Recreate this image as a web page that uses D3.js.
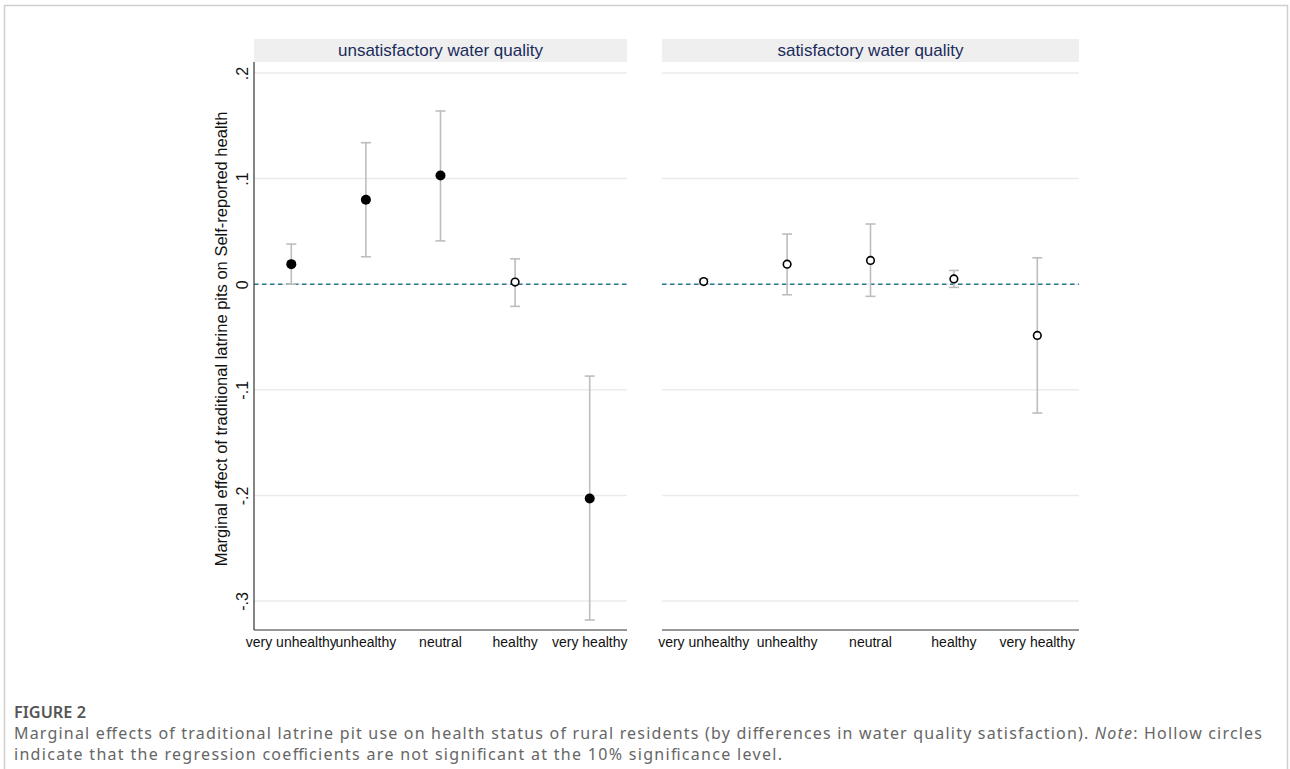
<!DOCTYPE html>
<html><head><meta charset="utf-8">
<script src="https://cdn.jsdelivr.net/npm/d3@7"></script>
<style>body{margin:0;background:#fff}svg{display:block}</style>
</head><body>
<svg id="c" width="1290" height="769"></svg>
<script>
const categories = ["very unhealthy","unhealthy","neutral","healthy","very healthy"];
const panelTitles = ["unsatisfactory water quality","satisfactory water quality"];
const yTicks = [0.2, 0.1, 0, -0.1, -0.2, -0.3];
const yTickLabels = [".2", ".1", "0", "-.1", "-.2", "-.3"];
// unsatisfactory water quality
const unsatEst = [0.019, 0.080, 0.103, 0.002, -0.203];
const unsatLo  = [0.000, 0.026, 0.041, -0.021, -0.318];
const unsatHi  = [0.038, 0.134, 0.164, 0.024, -0.087];
const unsatSig = [true, true, true, false, true];
// satisfactory water quality
const satEst = [0.0025, 0.019, 0.0225, 0.005, -0.0485];
const satLo  = [0.000, -0.010, -0.0115, -0.003, -0.122];
const satHi  = [0.005, 0.0475, 0.057, 0.013, 0.025];
const satSig = [false, false, false, false, false];

const svg = d3.select("#c");
svg.append("rect").attr("x",4.5).attr("y",5.5).attr("width",1283).attr("height",800)
  .attr("fill","none").attr("stroke","#cfcfcf").attr("stroke-width",1.5);

const plotTop = 62, plotBottom = 630;
const y = d3.scaleLinear().domain([-0.3, 0.2]).range([601, 73]);

const panels = [
  {x0:254, x1:627, title:panelTitles[0], est:unsatEst, lo:unsatLo, hi:unsatHi, sig:unsatSig, axis:true},
  {x0:662, x1:1079, title:panelTitles[1], est:satEst, lo:satLo, hi:satHi, sig:satSig, axis:false}
];
const font = "'Liberation Sans', Arial, sans-serif";

panels.forEach(p => {
  const g = svg.append("g");
  const x = d3.scaleBand().domain(categories).range([p.x0, p.x1]);
  g.append("rect").attr("x",p.x0).attr("y",39).attr("width",p.x1-p.x0).attr("height",23).attr("fill","#efefef");
  g.append("text").attr("x",(p.x0+p.x1)/2).attr("y",55.5).attr("text-anchor","middle")
    .attr("font-family",font).attr("font-size",17).attr("fill","#1b2b5c").text(p.title);
  g.selectAll(".grid").data(yTicks).join("line")
    .attr("x1",p.x0).attr("x2",p.x1).attr("y1",d=>y(d)).attr("y2",d=>y(d))
    .attr("stroke","#ebebeb").attr("stroke-width",1.5);
  g.append("line").attr("x1",p.x0).attr("x2",p.x1).attr("y1",y(0)).attr("y2",y(0))
    .attr("stroke","#2c7893").attr("stroke-width",1.5).attr("stroke-dasharray","4.5,3.5");
  const xAxis = d3.axisBottom(x).tickSize(0).tickPadding(0);
  const ax = g.append("g").attr("transform",`translate(0,${plotBottom})`).call(xAxis);
  ax.select(".domain").attr("stroke","#333").attr("stroke-width",1.2).attr("d",`M${p.x0},0H${p.x1}`);
  ax.selectAll("text").attr("font-family",font).attr("font-size",14).attr("fill","#111").attr("dy",null).attr("y",17);
  if (p.axis) {
    const yAxis = d3.axisLeft(y).tickValues(yTicks).tickFormat((d,i)=>yTickLabels[i]).tickSize(0).tickPadding(0);
    const ay = g.append("g").attr("transform",`translate(${p.x0},0)`).call(yAxis);
    ay.select(".domain").attr("stroke","#333").attr("stroke-width",1.2).attr("d",`M0,${plotTop}V${plotBottom}`);
    ay.selectAll(".tick text").attr("font-family",font).attr("font-size",16).attr("fill","#111")
      .attr("x",null).attr("dy",null).attr("text-anchor","middle")
      .attr("transform","translate(-6,0) rotate(-90)").attr("y",0);
    g.append("text").attr("transform",`translate(227,339) rotate(-90)`).attr("text-anchor","middle")
      .attr("font-family",font).attr("font-size",16.5).attr("fill","#111")
      .text("Marginal effect of traditional latrine pits on Self-reported health");
  }
  const idx = d3.range(categories.length);
  const cx = i => x(categories[i]) + x.bandwidth()/2;
  const eb = g.selectAll(".eb").data(idx).join("g").attr("stroke","#bdbdbd").attr("stroke-width",1.6);
  eb.append("line").attr("x1",cx).attr("x2",cx).attr("y1",i=>y(p.lo[i])).attr("y2",i=>y(p.hi[i]));
  eb.append("line").attr("x1",i=>cx(i)-5).attr("x2",i=>cx(i)+5).attr("y1",i=>y(p.lo[i])).attr("y2",i=>y(p.lo[i]));
  eb.append("line").attr("x1",i=>cx(i)-5).attr("x2",i=>cx(i)+5).attr("y1",i=>y(p.hi[i])).attr("y2",i=>y(p.hi[i]));
  g.selectAll(".pt").data(idx).join("circle")
    .attr("cx",cx).attr("cy",i=>y(p.est[i]))
    .attr("r",i=>p.sig[i]?5:3.8)
    .attr("fill",i=>p.sig[i]?"#000":"#fff")
    .attr("stroke","#000").attr("stroke-width",i=>p.sig[i]?0:1.6);
});

// caption
const capFont = "'Noto Sans','Open Sans',sans-serif";
svg.append("text").attr("x",14).attr("y",718).attr("font-family",capFont).attr("font-size",16.5)
  .attr("font-weight",600).attr("fill","#555").attr("textLength",72).attr("lengthAdjust","spacingAndGlyphs").text("FIGURE 2");
const l1 = svg.append("text").attr("x",14).attr("y",739).attr("font-family",capFont).attr("font-size",16)
  .attr("fill","#666").attr("textLength",1248).attr("lengthAdjust","spacing");
l1.append("tspan").text("Marginal effects of traditional latrine pit use on health status of rural residents (by differences in water quality satisfaction). ");
l1.append("tspan").attr("font-style","italic").text("Note");
l1.append("tspan").text(": Hollow circles");
svg.append("text").attr("x",14).attr("y",760).attr("font-family",capFont).attr("font-size",16).attr("fill","#666")
  .attr("textLength",768).attr("lengthAdjust","spacing")
  .text("indicate that the regression coefficients are not significant at the 10% significance level.");
</script>
</body></html>
